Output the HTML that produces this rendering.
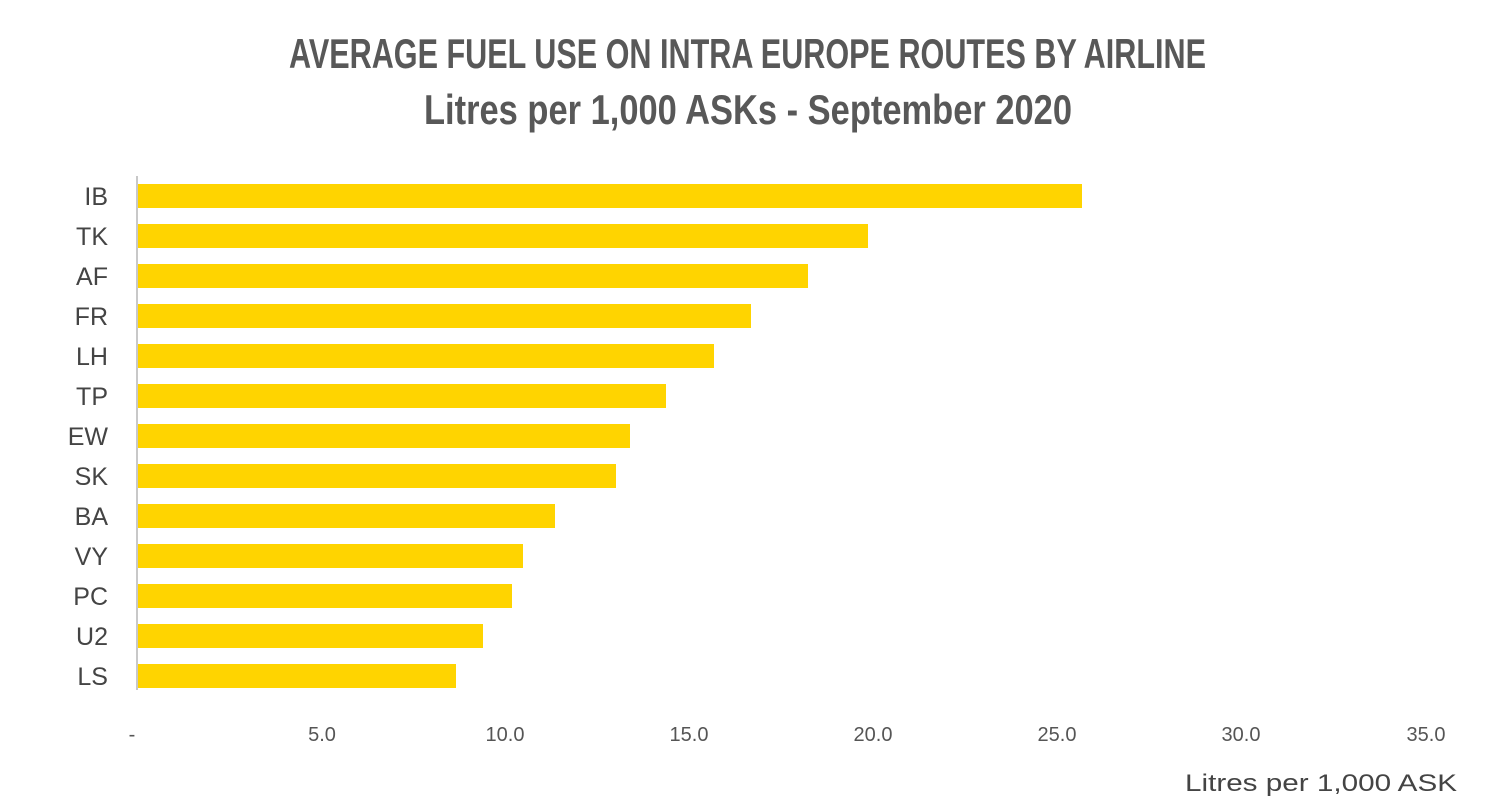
<!DOCTYPE html>
<html><head><meta charset="utf-8"><style>
html,body{margin:0;padding:0;background:#fff;}
svg{display:block;}
</style></head><body>
<svg width="1495" height="811" xmlns="http://www.w3.org/2000/svg">
<g font-family="'Liberation Sans Narrow','Liberation Sans',sans-serif" font-weight="bold" fill="#585858">
<text x="289" y="68" font-size="42" textLength="917" lengthAdjust="spacingAndGlyphs">AVERAGE FUEL USE ON INTRA EUROPE ROUTES BY AIRLINE</text>
<text x="424" y="124" font-size="42" textLength="648" lengthAdjust="spacingAndGlyphs">Litres per 1,000 ASKs - September 2020</text>
</g>
<line x1="137" y1="176" x2="137" y2="690" stroke="#c8c8c8" stroke-width="2"/>
<g fill="#FFD400">
<rect x="138" y="184" width="944" height="24"/>
<rect x="138" y="224" width="730" height="24"/>
<rect x="138" y="264" width="670" height="24"/>
<rect x="138" y="304" width="613" height="24"/>
<rect x="138" y="344" width="576" height="24"/>
<rect x="138" y="384" width="528" height="24"/>
<rect x="138" y="424" width="492" height="24"/>
<rect x="138" y="464" width="478" height="24"/>
<rect x="138" y="504" width="417" height="24"/>
<rect x="138" y="544" width="385" height="24"/>
<rect x="138" y="584" width="374" height="24"/>
<rect x="138" y="624" width="345" height="24"/>
<rect x="138" y="664" width="318" height="24"/>
</g>
<g font-family="'Liberation Sans',sans-serif" font-size="25" fill="#444" text-anchor="end">
<text x="108" y="205">IB</text>
<text x="108" y="245">TK</text>
<text x="108" y="285">AF</text>
<text x="108" y="325">FR</text>
<text x="108" y="365">LH</text>
<text x="108" y="405">TP</text>
<text x="108" y="445">EW</text>
<text x="108" y="485">SK</text>
<text x="108" y="525">BA</text>
<text x="108" y="565">VY</text>
<text x="108" y="605">PC</text>
<text x="108" y="645">U2</text>
<text x="108" y="685">LS</text>
</g>
<g font-family="'Liberation Sans',sans-serif" font-size="20" fill="#555" text-anchor="middle">
<text x="132" y="741">-</text>
<text x="322" y="741">5.0</text>
<text x="505" y="741">10.0</text>
<text x="689" y="741">15.0</text>
<text x="873" y="741">20.0</text>
<text x="1057" y="741">25.0</text>
<text x="1241" y="741">30.0</text>
<text x="1426" y="741">35.0</text>
</g>
<text x="1185" y="791" font-family="'Liberation Sans',sans-serif" font-size="24" fill="#444" textLength="272" lengthAdjust="spacingAndGlyphs">Litres per 1,000 ASK</text>
</svg>
</body></html>
